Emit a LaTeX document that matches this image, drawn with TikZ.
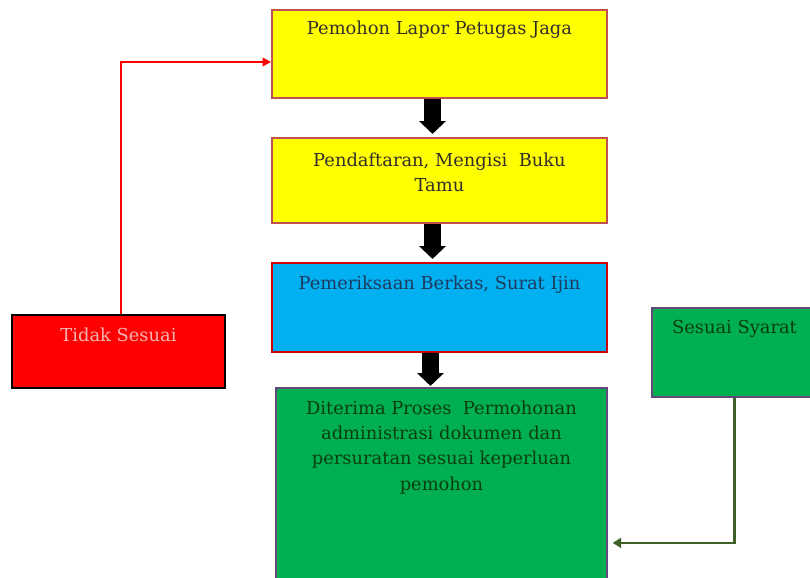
\documentclass[tikz,border=0pt]{standalone}
\usepackage{fontspec}
\setmainfont{DejaVu Serif}
\usepackage{xcolor}
\usepackage{tikz}
\usetikzlibrary{arrows.meta,positioning,calc}
\definecolor{kuning}{HTML}{FFFF00}
\definecolor{birumuda}{HTML}{00B0F0}
\definecolor{hijau}{HTML}{00B050}
\definecolor{merah}{HTML}{FF0000}
\definecolor{bataskuning}{HTML}{C0504D}
\definecolor{batasungu}{HTML}{604A7B}
\definecolor{hijaugelap}{HTML}{3F5F28}
\definecolor{teksbiru}{HTML}{1F3A5F}
\definecolor{tekshijau}{HTML}{0B3D12}
\definecolor{teksmerah}{HTML}{F6B2B2}

\begin{document}
\begin{tikzpicture}[x=0.025cm,y=-0.025cm,
    kotak/.style={draw,line width=1.2pt,inner sep=0pt},
    teks/.style={anchor=north,inner sep=0pt,align=center,font=\fontsize{12.7}{18}\selectfont},
    panah/.style={line width=0.42cm,-{Triangle[width=0.65cm,length=0.32cm]}}]
    \useasboundingbox (0,0) rectangle (810,578);
    % Boxes
    \node[kotak,fill=kuning,draw=bataskuning,minimum width=8.375cm,minimum height=2.2cm] (lapor) at (439.5,54) {};
    \node[kotak,fill=kuning,draw=bataskuning,minimum width=8.375cm,minimum height=2.125cm] (daftar) at (439.5,180.5) {};
    \node[kotak,fill=birumuda,draw=red!80!black,minimum width=8.375cm,minimum height=2.225cm] (periksa) at (439.5,307.5) {};
    \node[kotak,fill=hijau,draw=batasungu,minimum width=8.275cm,minimum height=4.925cm] (terima) at (441.5,486.5) {};
    \node[kotak,fill=merah,draw=black,minimum width=5.325cm,minimum height=1.825cm] (tidak) at (118.5,351.5) {};
    \node[kotak,fill=hijau,draw=batasungu,minimum width=4.125cm,minimum height=2.225cm] (sesuai) at (734.5,352.5) {};
    % Texts
    \node[teks,text=black!85!olive] (tlapor) at ([yshift=-0.28cm]lapor.north) {Pemohon Lapor Petugas Jaga};
    \node[teks,text=black!85!olive] (tdaftar) at ([yshift=-0.38cm]daftar.north) {Pendaftaran, Mengisi\ \ Buku\\Tamu};
    \node[teks,text=teksbiru] (tperiksa) at ([yshift=-0.33cm]periksa.north) {Pemeriksaan Berkas, Surat Ijin};
    \node[teks,text=tekshijau] (tterima) at ([yshift=-0.33cm]terima.north) {Diterima Proses\ \ Permohonan\\administrasi dokumen dan\\persuratan sesuai keperluan\\pemohon};
    \node[teks,text=teksmerah] (ttidak) at ([yshift=-0.33cm]tidak.north) {Tidak Sesuai};
    \node[teks,text=tekshijau] (tsesuai) at ([yshift=-0.33cm]sesuai.north) {Sesuai Syarat};
    % Arrows
    \draw[panah] ([xshift=-0.175cm]lapor.south) -- ([xshift=-0.175cm,yshift=0.08cm]daftar.north);
    \draw[panah] ([xshift=-0.175cm]daftar.south) -- ([xshift=-0.175cm,yshift=0.08cm]periksa.north);
    \draw[panah] ([xshift=-0.225cm]periksa.south) -- ([xshift=-0.275cm,yshift=0.03cm]terima.north);
    % Connectors
    \draw[merah,line width=1.5pt,-{Triangle[width=6pt,length=6pt]}] ([xshift=0.06cm]tidak.north) |- ([yshift=-0.2cm]lapor.west);
    \draw[hijaugelap,line width=1.8pt,-{Triangle[width=7pt,length=6pt]}] (sesuai.south) |- ([yshift=-1.41cm,xshift=0.12cm]terima.east);
\end{tikzpicture}
\end{document}
